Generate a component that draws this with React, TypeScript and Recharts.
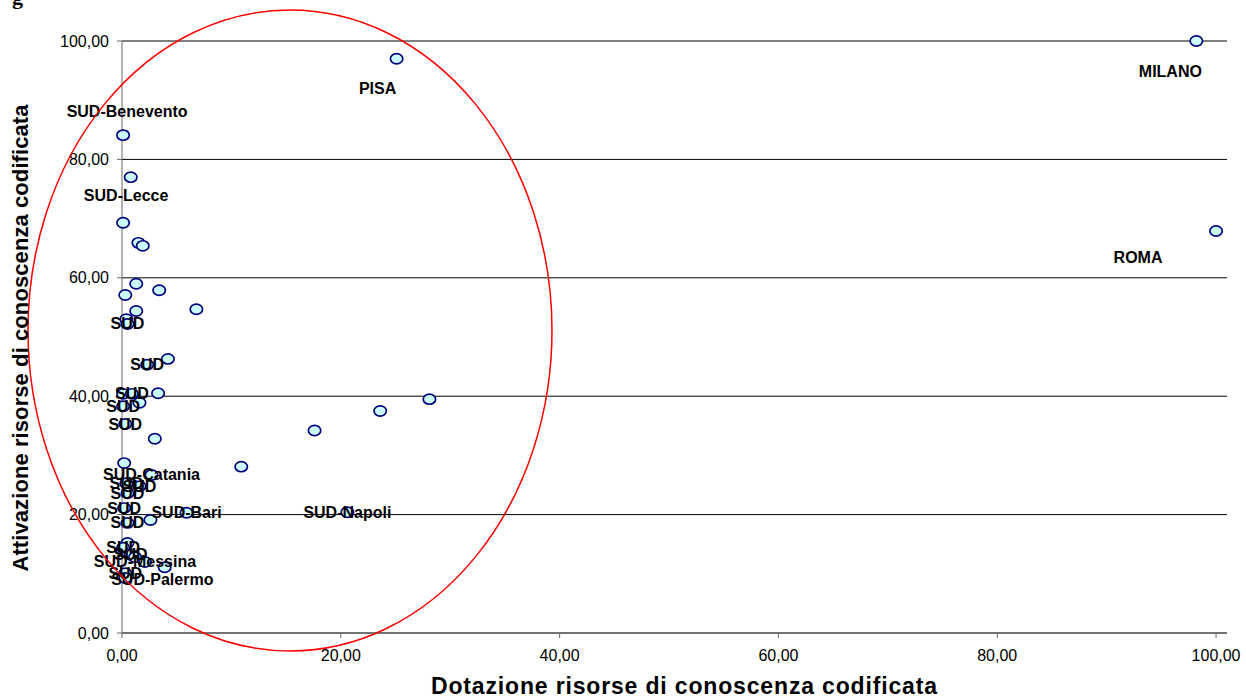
import React from 'react';
import { ScatterChart, Scatter, XAxis, YAxis, CartesianGrid } from 'recharts';

const names = [
  'MILANO', 'ROMA', 'PISA', 'SUD-Benevento', '', 'SUD-Lecce', '', '', '', '', '', '', '', '', 'SUD',
  'SUD', '', '', 'SUD', '', '', 'SUD', 'SUD', '', '', 'SUD-Catania', '', '', '', '',
  'SUD', 'SUD', 'SUD', 'SUD', '', 'SUD-Bari', 'SUD-Napoli', 'SUD', '', 'SUD', 'SUD', '', 'SUD-Messina', '', 'SUD', 'SUD-Palermo',
];
const dotazione = [
  98.2, 100, 25.1, 0.1, 0.8, 0.1, 1.5, 1.9, 1.3, 3.4, 0.3, 6.8, 1.3, 0.4, 0.5,
  2.3, 4.2, 0.1, 0.9, 3.3, 1.6, 0.1, 0.3, 3.0, 0.2, 2.7, 10.9, 17.6, 23.6, 28.1,
  0.4, 1.6, 0.5, 0.2, 2.6, 5.9, 20.6, 0.5, 0.5, 0.8, 0.1, 1.2, 2.1, 3.9, 0.3, 0.3,
];
const attivazione = [
  100, 67.9, 97.0, 84.1, 77.0, 69.3, 65.9, 65.4, 59.0, 57.9, 57.1, 54.7, 54.4, 53.0, 52.2,
  45.3, 46.3, 40.4, 40.4, 40.5, 38.9, 38.3, 35.3, 32.8, 28.7, 26.7, 28.1, 34.2, 37.5, 39.5,
  25.3, 24.8, 23.6, 21.1, 19.1, 20.3, 20.4, 18.6, 15.2, 13.2, 14.4, 12.8, 12.0, 11.1, 10.1, 9.3,
];
const xTicks = [0, 20, 40, 60, 80, 100];
const yTicks = [0, 20, 40, 60, 80, 100];
const xTitle = 'Dotazione risorse di conoscenza codificata';
const yTitle = 'Attivazione risorse di conoscenza codificata';

// label nudges (pixels), styling only
const LABEL_NUDGE: Record<string, [number, number]> = {
  MILANO: [-26, 30],
  ROMA: [-78, 26],
  PISA: [-19, 30],
  'SUD-Benevento': [4, -24],
  'SUD-Lecce': [3, -27],
  'SUD-Palermo': [37, 2],
};

const data = names.map((n, i) => ({ name: n, x: dotazione[i], y: attivazione[i], idx: i }));

const FONT = '"Liberation Sans", Arial, sans-serif';
const fmt = (v: number) => v.toFixed(2).replace('.', ',');

const Marker = (p: any) => (
  <ellipse cx={p.cx} cy={p.cy} rx={6.2} ry={5.1} fill="#ccffff" stroke="#000080" strokeWidth={1.7} />
);

const LabelShape = (p: any) => {
  const n = p.payload?.name;
  if (!n) return <g />;
  const nudge = LABEL_NUDGE[n] || [0, 0];
  return (
    <text
      x={p.cx + nudge[0]}
      y={p.cy + nudge[1]}
      textAnchor="middle"
      dominantBaseline="central"
      fontFamily={FONT}
      fontWeight="bold"
      fontSize={16}
      fill="#000"
    >
      {n}
    </text>
  );
};

export default function App() {
  return (
    <div style={{ position: 'absolute', left: 0, top: 0, width: 1246, height: 698, background: '#fff', overflow: 'hidden' }}>
      <div style={{ position: 'absolute', left: 12, top: -16, fontFamily: '"Liberation Serif", serif', fontWeight: 'bold', fontSize: 22 }}>g</div>
      <ScatterChart width={1246} height={698} margin={{ top: 41, right: 19, bottom: 35, left: 62 }}>
        <CartesianGrid vertical={false} stroke="#000" strokeWidth={1} />
        <XAxis
          type="number"
          dataKey="x"
          domain={[0, 101]}
          ticks={xTicks}
          tickFormatter={fmt}
          height={30}
          tickSize={5}
          tickMargin={12}
          axisLine={{ stroke: '#666' }}
          tickLine={{ stroke: '#666' }}
          tick={{ fill: '#000', fontSize: 16, fontFamily: FONT }}
        />
        <YAxis
          type="number"
          dataKey="y"
          domain={[0, 100]}
          ticks={yTicks}
          tickFormatter={fmt}
          width={60}
          tickSize={5}
          tickMargin={8}
          axisLine={{ stroke: '#666' }}
          tickLine={{ stroke: '#666' }}
          tick={{ fill: '#000', fontSize: 16, fontFamily: FONT }}
        />
        <Scatter data={data} shape={Marker} isAnimationActive={false} />
        <Scatter data={data} shape={LabelShape} isAnimationActive={false} />
      </ScatterChart>
      <svg width={1246} height={698} style={{ position: 'absolute', left: 0, top: 0, pointerEvents: 'none' }}>
        <ellipse cx={290} cy={330.5} rx={262} ry={320.5} fill="none" stroke="#ff0000" strokeWidth={1.5} />
        <text x={684} y={694} textAnchor="middle" fontFamily={FONT} fontWeight="bold" fontSize={23} textLength={506} lengthAdjust="spacing">
          {xTitle}
        </text>
        <text
          x={0}
          y={0}
          transform="translate(28 338) rotate(-90)"
          textAnchor="middle"
          fontFamily={FONT}
          fontWeight="bold"
          fontSize={22}
          textLength={467}
          lengthAdjust="spacing"
        >
          {yTitle}
        </text>
      </svg>
    </div>
  );
}
